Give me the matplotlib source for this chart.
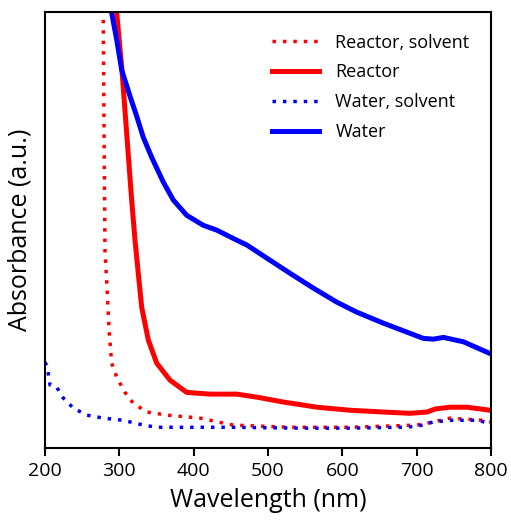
import matplotlib
matplotlib.use("Agg")
import matplotlib.pyplot as plt

plt.rcParams["font.family"] = ["Open Sans", "DejaVu Sans"]

# Reactor (solid red)
reactor_nm = [294.0, 296.5, 303.2, 309.9, 316.6, 321.1, 325.5, 330.1, 339.0, 350.3,
              368.2, 390.6, 422.0, 457.9, 485.2, 520.2, 565.9, 610.3, 654.7, 691.0,
              713.9, 725.0, 744.9, 767.7, 798.7]
reactor_abs = [1.06, 0.998, 0.874, 0.722, 0.569, 0.477, 0.401, 0.323, 0.248, 0.195,
               0.156, 0.128, 0.124, 0.124, 0.117, 0.106, 0.094, 0.087, 0.083, 0.080,
               0.083, 0.090, 0.094, 0.094, 0.087]

# Reactor, solvent (dotted red)
reactor_solv_nm = [278.0, 278.4, 280.7, 283.8, 286.5, 289.7, 296.5, 307.6, 318.8, 336.8,
                   363.7, 408.5, 453.3, 529.6, 610.3, 700.5, 722.0, 744.9, 789.3, 798.7]
reactor_solv_abs = [1.05, 0.975, 0.454, 0.356, 0.264, 0.195, 0.163, 0.128, 0.103, 0.083,
                    0.076, 0.069, 0.053, 0.048, 0.048, 0.053, 0.060, 0.069, 0.064, 0.060]

# Water, solvent (dotted blue)
water_solv_nm = [200.0, 202.3, 204.4, 206.7, 215.7, 224.6, 238.1, 256.1, 278.4, 305.3,
                 332.2, 350.3, 452.9, 543.0, 610.0, 677.6, 700.5, 722.0, 744.9, 781.2,
                 798.7]
water_solv_abs = [0.197, 0.190, 0.172, 0.145, 0.140, 0.115, 0.092, 0.076, 0.069, 0.064,
                  0.053, 0.048, 0.048, 0.046, 0.046, 0.048, 0.050, 0.060, 0.064, 0.064,
                  0.057]

# Water (solid blue)
water_nm = [288.5, 289.7, 296.5, 303.2, 314.4, 323.4, 332.2, 343.5, 359.2, 372.6,
            390.6, 413.0, 431.0, 457.9, 471.4, 502.7, 529.6, 561.0, 592.4, 619.3,
            654.7, 687.0, 708.5, 722.0, 735.9, 762.8, 798.7]
water_abs = [1.03, 0.998, 0.936, 0.867, 0.807, 0.761, 0.713, 0.667, 0.610, 0.569,
             0.534, 0.511, 0.500, 0.477, 0.466, 0.431, 0.401, 0.367, 0.335, 0.312,
             0.287, 0.266, 0.252, 0.250, 0.254, 0.244, 0.217]

x_ticks = [200, 300, 400, 500, 600, 700, 800]

fig = plt.figure(figsize=(5.11, 5.23), dpi=100)
ax = fig.add_axes([0.088, 0.143, 0.873, 0.834])

dot = (0, (1, 2))
ax.plot(reactor_solv_nm, reactor_solv_abs, color="#ff0000", lw=2.5, linestyle=dot,
        label="Reactor, solvent")
ax.plot(reactor_nm, reactor_abs, color="#ff0000", lw=3.6, label="Reactor")
ax.plot(water_solv_nm, water_solv_abs, color="#0000ff", lw=2.5, linestyle=dot,
        label="Water, solvent")
ax.plot(water_nm, water_abs, color="#0000ff", lw=3.6, label="Water")

ax.set_xlim(200, 800)
ax.set_ylim(0, 1)
ax.set_xticks(x_ticks)
ax.set_yticks([])
ax.tick_params(axis="x", direction="out", length=6, width=1.5, labelsize=14, pad=4)
for spine in ax.spines.values():
    spine.set_linewidth(1.5)

ax.set_xlabel("Wavelength (nm)", fontsize=18, labelpad=6)
ax.set_ylabel("Absorbance (a.u.)", fontsize=18, labelpad=9)

ax.legend(loc="upper right", frameon=False, fontsize=13, handlelength=2.6,
          labelspacing=0.65, handletextpad=0.9, borderaxespad=0.8)

fig.savefig("out.png", dpi=100)
